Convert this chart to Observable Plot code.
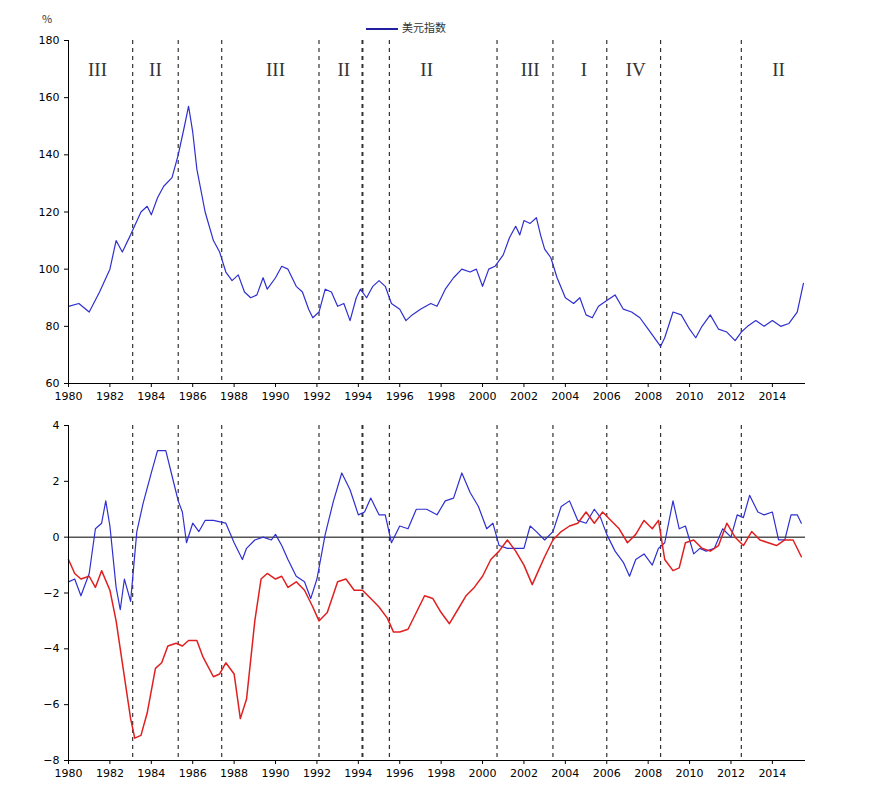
<!DOCTYPE html>
<html><head><meta charset="utf-8">
<script src="https://cdn.jsdelivr.net/npm/d3@7"></script>
<script src="https://cdn.jsdelivr.net/npm/@observablehq/plot@0.6"></script>
<style>body{margin:0;background:#fff;font-family:"Noto Sans CJK SC",sans-serif}#wrap{position:relative;width:873px}#wrap svg{display:block}</style>
</head><body><div id="wrap"></div>
<script>
const dollarYear=[1980,1980.5,1981,1981.5,1982,1982.3,1982.6,1983,1983.5,1983.8,1984,1984.3,1984.6,1985,1985.3,1985.6,1985.8,1986,1986.2,1986.6,1987,1987.3,1987.6,1987.9,1988.2,1988.5,1988.8,1989.1,1989.4,1989.6,1990,1990.3,1990.6,1991,1991.3,1991.6,1991.8,1992.1,1992.4,1992.7,1993,1993.3,1993.6,1993.9,1994.1,1994.4,1994.7,1995,1995.3,1995.6,1996,1996.3,1996.6,1997,1997.5,1997.8,1998.2,1998.6,1999,1999.4,1999.7,2000,2000.3,2000.6,2001,2001.3,2001.6,2001.8,2002,2002.3,2002.6,2002.8,2003,2003.3,2003.6,2004,2004.4,2004.7,2005,2005.3,2005.6,2006,2006.4,2006.8,2007.2,2007.6,2008,2008.4,2008.6,2008.8,2009.2,2009.6,2010,2010.3,2010.6,2011,2011.4,2011.8,2012.2,2012.5,2012.8,2013.2,2013.6,2014,2014.4,2014.8,2015.2,2015.5];
const dollarValue=[87,88,85,92,100,110,106,112,120,122,119,125,129,132,140,150,157,148,135,120,110,106,99,96,98,92,90,91,97,93,97,101,100,94,92,86,83,85,93,92,87,88,82,90,93,90,94,96,94,88,86,82,84,86,88,87,93,97,100,99,100,94,100,101,105,111,115,112,117,116,118,112,107,104,97,90,88,90,84,83,87,89,91,86,85,83,79,75,73,76,85,84,79,76,80,84,79,78,75,78,80,82,80,82,80,81,85,95];
const gdpYear=[1980,1980.3,1980.6,1981,1981.3,1981.6,1981.8,1982,1982.3,1982.5,1982.7,1983,1983.3,1983.6,1984,1984.3,1984.7,1985,1985.3,1985.5,1985.7,1986,1986.3,1986.6,1987,1987.6,1988,1988.4,1988.6,1989,1989.4,1989.8,1990,1990.3,1990.6,1991,1991.4,1991.7,1992,1992.4,1992.8,1993.2,1993.6,1994,1994.3,1994.6,1995,1995.3,1995.6,1996,1996.4,1996.8,1997.3,1997.8,1998.2,1998.6,1999,1999.4,1999.8,2000.2,2000.5,2000.8,2001.2,2001.6,2002,2002.3,2002.6,2003,2003.4,2003.8,2004.2,2004.6,2005,2005.4,2005.7,2006,2006.4,2006.8,2007.1,2007.4,2007.8,2008.2,2008.5,2008.8,2009.2,2009.5,2009.8,2010.2,2010.5,2010.8,2011.2,2011.6,2012,2012.3,2012.6,2012.9,2013.3,2013.6,2014,2014.3,2014.6,2014.9,2015.2,2015.4];
const gdpValue=[-1.6,-1.5,-2.1,-1.3,0.3,0.5,1.3,0.4,-1.8,-2.6,-1.5,-2.3,0.2,1.2,2.3,3.1,3.1,2.2,1.3,0.9,-0.2,0.5,0.2,0.6,0.6,0.5,-0.2,-0.8,-0.4,-0.1,0,-0.1,0.1,-0.3,-0.8,-1.4,-1.6,-2.2,-1.5,0.1,1.3,2.3,1.7,0.8,0.9,1.4,0.8,0.8,-0.2,0.4,0.3,1,1,0.8,1.3,1.4,2.3,1.6,1.1,0.3,0.5,-0.3,-0.4,-0.4,-0.4,0.4,0.2,-0.1,0.2,1.1,1.3,0.6,0.5,1,0.7,0.1,-0.5,-0.9,-1.4,-0.8,-0.6,-1,-0.4,-0.2,1.3,0.3,0.4,-0.6,-0.4,-0.5,-0.4,0.3,0,0.8,0.7,1.5,0.9,0.8,0.9,-0.1,-0.1,0.8,0.8,0.5];
const cpiYear=[1980,1980.3,1980.6,1981,1981.3,1981.6,1982,1982.3,1982.6,1983,1983.2,1983.5,1983.8,1984.2,1984.5,1984.8,1985.2,1985.5,1985.8,1986.2,1986.5,1987,1987.3,1987.6,1988,1988.3,1988.6,1989,1989.3,1989.6,1990,1990.3,1990.6,1991,1991.4,1991.8,1992.1,1992.5,1993,1993.4,1993.8,1994.2,1994.6,1995,1995.4,1995.7,1996,1996.4,1996.8,1997.2,1997.6,1998,1998.4,1998.8,1999.2,1999.6,2000,2000.4,2000.8,2001.2,2001.6,2002,2002.4,2002.7,2003,2003.4,2003.8,2004.2,2004.6,2005,2005.4,2005.8,2006.2,2006.6,2007,2007.4,2007.8,2008.2,2008.5,2008.8,2009.2,2009.5,2009.8,2010.2,2010.6,2011,2011.4,2011.8,2012.2,2012.6,2013,2013.4,2013.8,2014.2,2014.6,2015,2015.4];
const cpiValue=[-0.8,-1.3,-1.5,-1.4,-1.8,-1.2,-1.9,-3,-4.5,-6.5,-7.2,-7.1,-6.3,-4.7,-4.5,-3.9,-3.8,-3.9,-3.7,-3.7,-4.3,-5,-4.9,-4.5,-4.9,-6.5,-5.8,-3,-1.5,-1.3,-1.5,-1.4,-1.8,-1.6,-1.9,-2.5,-3,-2.7,-1.6,-1.5,-1.9,-1.9,-2.2,-2.5,-2.9,-3.4,-3.4,-3.3,-2.7,-2.1,-2.2,-2.7,-3.1,-2.6,-2.1,-1.8,-1.4,-0.8,-0.5,-0.1,-0.5,-1,-1.7,-1.2,-0.7,-0.1,0.2,0.4,0.5,0.9,0.5,0.9,0.6,0.3,-0.2,0.1,0.6,0.3,0.6,-0.8,-1.2,-1.1,-0.2,-0.1,-0.4,-0.5,-0.3,0.5,0,-0.3,0.2,-0.1,-0.2,-0.3,-0.1,-0.1,-0.7];
const phaseLines=[1983.1,1985.3,1987.4,1992.1,1994.2,1995.5,2000.7,2003.4,2006,2008.6,2012.5];
const phaseLabelYear=[1981.4,1984.2,1990.0,1993.3,1997.3,2002.3,2004.9,2007.4,2014.3];
const phaseLabelText=["III","II","III","II","II","III","I","IV","II"];
const xTicks=d3.range(1980,2015,2);

const dollar=dollarYear.map((x,i)=>({x,y:dollarValue[i]}));
const gdp=gdpYear.map((x,i)=>({x,y:gdpValue[i]}));
const cpi=cpiYear.map((x,i)=>({x,y:cpiValue[i]}));
const labels=phaseLabelYear.map((x,i)=>({x,t:phaseLabelText[i]}));
const xs={domain:[1980,2015.6],ticks:xTicks,tickFormat:d=>String(d)};
const common={width:873,marginLeft:68,marginRight:68,style:{fontFamily:"DejaVu Sans",fontSize:"11px",color:"#000"}};
const dash=Plot.ruleX(phaseLines,{stroke:"#333",strokeDasharray:"4,4",strokeWidth:d=>d===1994.2?2:1.2});

const topChart=Plot.plot({...common,height:410,marginTop:40,marginBottom:27,
  x:{...xs,label:null,tickSize:4},
  y:{domain:[60,180],ticks:d3.range(60,181,20),label:null,tickSize:4},
  marks:[
    dash,
    Plot.text(labels,{x:"x",text:"t",frameAnchor:"top",dy:22,fontFamily:"Liberation Serif",fontSize:19,fill:"#333",fontWeight:d=>d.x===1993.3?"bold":"normal"}),
    Plot.line(dollar,{x:"x",y:"y",stroke:"#2f2fd0",strokeWidth:1.2}),
    Plot.ruleX([1980],{stroke:"#000"}),Plot.ruleY([60],{stroke:"#000"})
  ]});
const botChart=Plot.plot({...common,height:380,marginTop:15,marginBottom:30,
  x:{...xs,label:null,tickSize:4},
  y:{domain:[-8,4],ticks:d3.range(-8,5,2),label:null,tickSize:4},
  marks:[
    dash,
    Plot.ruleY([0],{stroke:"#000"}),
    Plot.line(gdp,{x:"x",y:"y",stroke:"#2f2fd0",strokeWidth:1.2}),
    Plot.line(cpi,{x:"x",y:"y",stroke:"#e02020",strokeWidth:1.5}),
    Plot.ruleX([1980],{stroke:"#000"}),Plot.ruleY([-8],{stroke:"#000"})
  ]});
const w=document.getElementById("wrap");
const abs=(html,css)=>{const d=document.createElement("div");d.innerHTML=html;d.style.cssText="position:absolute;font-size:11px;color:#333;"+css;w.appendChild(d);};
w.appendChild(topChart);w.appendChild(botChart);
abs("%","left:42px;top:10px;");
abs('<span style="display:inline-block;width:32px;height:2px;background:#2020a0;vertical-align:middle;margin-right:4px"></span>美元指数',"left:366px;top:19px;");
abs("同比（%）","left:30px;top:793px;");
abs('<span style="display:inline-block;width:32px;height:2px;background:#2020c0;vertical-align:middle;margin-right:4px"></span>美国GDP增速-全球GDP增速 <span style="display:inline-block;width:32px;height:2px;background:#d02020;vertical-align:middle;margin:0 4px 0 14px"></span>美国CPI-全球CPI',"left:255px;top:793px;");
</script></body></html>
